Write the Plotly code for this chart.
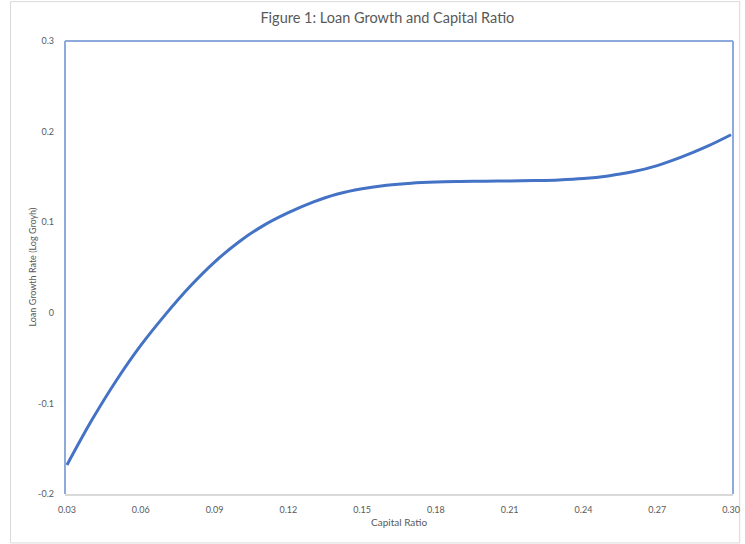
import plotly.graph_objects as go

# Capital ratio (x) and fitted loan growth rate (log growth, y)
capital_ratio = [0.03, 0.04, 0.05, 0.06, 0.07, 0.08, 0.09, 0.10, 0.11, 0.12,
                 0.13, 0.14, 0.15, 0.16, 0.17, 0.18, 0.19, 0.20, 0.21, 0.22,
                 0.23, 0.24, 0.25, 0.26, 0.27, 0.28, 0.29, 0.30]
loan_growth = [-0.168, -0.119, -0.075, -0.036, -0.002, 0.029, 0.056, 0.0785, 0.0965, 0.1105,
               0.1222, 0.1312, 0.1370, 0.1408, 0.1431, 0.1443, 0.1449, 0.1453, 0.1456, 0.1460,
               0.1467, 0.1482, 0.1511, 0.1556, 0.1625, 0.1720, 0.1833, 0.1965]

x_ticks = [0.03, 0.06, 0.09, 0.12, 0.15, 0.18, 0.21, 0.24, 0.27, 0.30]
y_ticks = [-0.2, -0.1, 0.0, 0.1, 0.2, 0.3]
y_tick_labels = ["-0.2", "-0.1", "0", "0.1", "0.2", "0.3"]

FONT = "Lato, 'Open Sans', sans-serif"
GREY = "#595959"
FRAME = "#8EA9DB"

fig = go.Figure()
fig.add_trace(go.Scatter(
    x=capital_ratio, y=loan_growth, mode="lines",
    line=dict(color="#4472C4", width=3, shape="spline", smoothing=1.0),
    hoverinfo="skip", showlegend=False,
))

fig.update_layout(
    width=745, height=544,
    margin=dict(l=65, r=5, t=41, b=50),
    paper_bgcolor="white", plot_bgcolor="white",
    font=dict(family=FONT, color=GREY, size=9),
    title=dict(text="Figure 1: Loan Growth and Capital Ratio", x=0.52, xanchor="center",
               y=0.967, yanchor="middle", font=dict(family=FONT, size=14.5, color=GREY)),
    xaxis=dict(range=[0.0292, 0.3008], tickvals=x_ticks, tickformat=".2f",
               showgrid=False, zeroline=False, showline=True, linecolor="#D9D9D9",
               linewidth=1.5, ticks="", ticklabelstandoff=6, ticklabeloverflow="allow",
               tickfont=dict(size=9, color=GREY)),
    yaxis=dict(range=[-0.2, 0.3], tickvals=y_ticks, ticktext=y_tick_labels,
               showgrid=False, zeroline=False, showline=False, ticks="",
               ticklabelstandoff=10, tickfont=dict(size=9, color=GREY)),
    annotations=[
        dict(text="Capital Ratio", xref="paper", yref="paper", x=0.5, y=-0.062,
             xanchor="center", yanchor="middle", showarrow=False,
             font=dict(size=10, color=GREY)),
        dict(text="Loan Growth Rate (Log Groyh)", xref="paper", yref="paper",
             x=-0.048, y=0.502, xanchor="center", yanchor="middle", textangle=-90,
             showarrow=False, font=dict(size=9, color=GREY)),
    ],
    shapes=[
        # chart-area border
        dict(type="rect", xref="paper", yref="paper", x0=-0.0815, x1=1.01, y0=-0.108, y1=1.087,
             line=dict(color="#D9D9D9", width=1), layer="below"),
        # plot-area frame (left, top, right)
        dict(type="line", xref="paper", yref="paper", x0=0, x1=0, y0=0, y1=1,
             line=dict(color=FRAME, width=2)),
        dict(type="line", xref="paper", yref="paper", x0=0, x1=1, y0=1, y1=1,
             line=dict(color=FRAME, width=2)),
        dict(type="line", xref="paper", yref="paper", x0=1, x1=1, y0=0, y1=1,
             line=dict(color=FRAME, width=2)),
    ],
)

fig.write_html("out.html")
